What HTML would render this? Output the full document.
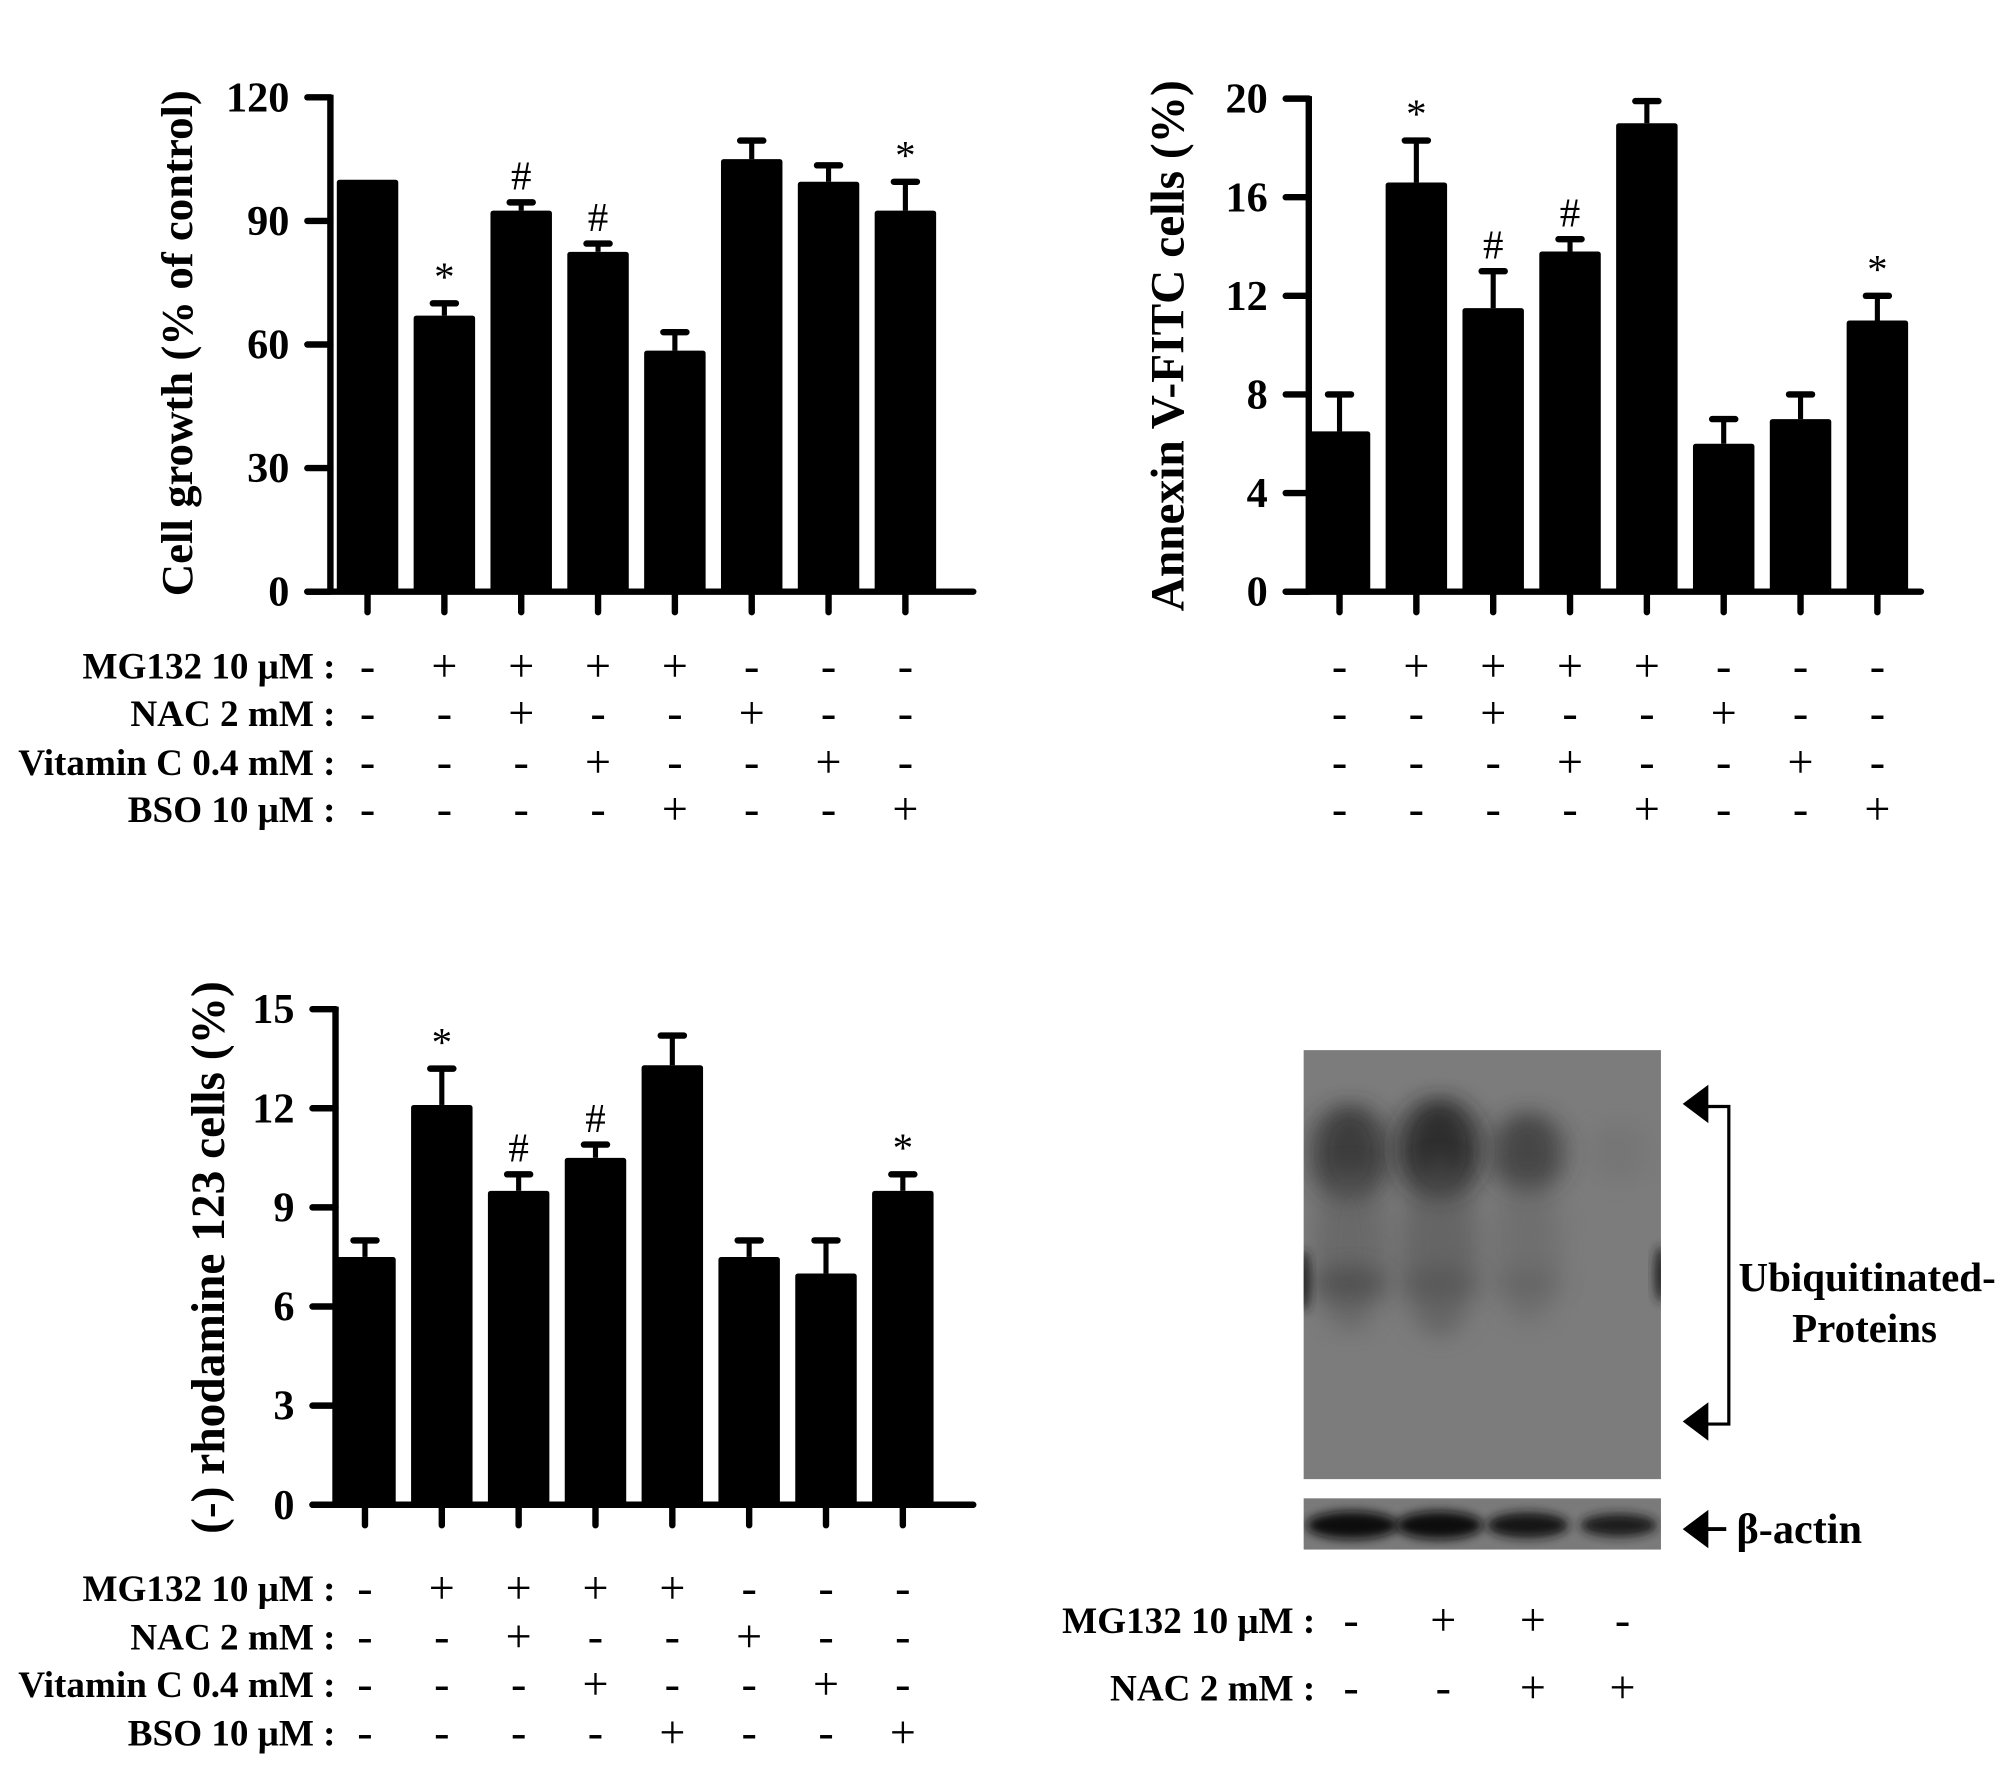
<!DOCTYPE html>
<html><head><meta charset="utf-8">
<style>
html,body{margin:0;padding:0;background:#fff;}
svg{display:block;}
text{font-family:"Liberation Serif",serif;font-weight:bold;fill:#000;}
</style></head>
<body>
<svg id="fig" width="2008" height="1766" viewBox="0 0 1568 1379" xmlns="http://www.w3.org/2000/svg">
<defs>
<filter id="blur8" x="-50%" y="-50%" width="200%" height="200%"><feGaussianBlur stdDeviation="10 8"/></filter>
<filter id="blur4" x="-50%" y="-50%" width="200%" height="200%"><feGaussianBlur stdDeviation="4"/></filter>
<clipPath id="blotclip"><rect x="1018" y="820" width="279" height="335"/></clipPath>
<clipPath id="actinclip"><rect x="1018" y="1170" width="279" height="40"/></clipPath>
</defs>
<g id="charts"></g>
<g id="blot">
  <rect x="1018" y="820" width="279" height="335" fill="#7c7c7c"/>
  <g clip-path="url(#blotclip)">
    <ellipse cx="1054" cy="900" rx="30" ry="38" fill="#2e2e2e" filter="url(#blur8)" opacity="0.8"/>
    <ellipse cx="1124" cy="897" rx="32" ry="40" fill="#232323" filter="url(#blur8)" opacity="0.85"/>
    <ellipse cx="1193" cy="900" rx="28" ry="32" fill="#363636" filter="url(#blur8)" opacity="0.75"/>
    <ellipse cx="1264" cy="900" rx="22" ry="22" fill="#707070" filter="url(#blur8)" opacity="0.5"/>
    <ellipse cx="1054" cy="975" rx="28" ry="65" fill="#5a5a5a" filter="url(#blur8)" opacity="0.55"/>
    <ellipse cx="1124" cy="975" rx="30" ry="70" fill="#525252" filter="url(#blur8)" opacity="0.55"/>
    <ellipse cx="1193" cy="975" rx="26" ry="60" fill="#606060" filter="url(#blur8)" opacity="0.45"/>
    <ellipse cx="1054" cy="1002" rx="28" ry="14" fill="#454545" filter="url(#blur8)" opacity="0.6"/>
    <ellipse cx="1124" cy="1002" rx="28" ry="14" fill="#505050" filter="url(#blur8)" opacity="0.5"/>
    <ellipse cx="1193" cy="1002" rx="24" ry="12" fill="#5a5a5a" filter="url(#blur8)" opacity="0.4"/>
    <ellipse cx="1018" cy="1000" rx="5" ry="24" fill="#222" filter="url(#blur4)"/>
    <ellipse cx="1297" cy="995" rx="5" ry="22" fill="#222" filter="url(#blur4)"/>
  </g>
  <rect x="1018" y="1170" width="279" height="40" fill="#7a7a7a"/>
  <g clip-path="url(#actinclip)">
    <ellipse cx="1056" cy="1191" rx="36" ry="11" fill="#111" filter="url(#blur4)"/>
    <ellipse cx="1124" cy="1191" rx="34" ry="11" fill="#111" filter="url(#blur4)"/>
    <ellipse cx="1193" cy="1191" rx="32" ry="10" fill="#151515" filter="url(#blur4)"/>
    <ellipse cx="1264" cy="1191" rx="30" ry="9" fill="#1a1a1a" filter="url(#blur4)"/>
  </g>
  <g>
    <polygon points="1314,862 1334,847 1334,877" fill="#000"/>
    <polygon points="1314,1110 1334,1095 1334,1125" fill="#000"/>
    <polyline points="1330,864 1350,864 1350,1112 1330,1112" fill="none" stroke="#000" stroke-width="2.5"/>
  </g>
  <text x="1458" y="1008" font-size="32" text-anchor="middle">Ubiquitinated-</text>
  <text x="1456" y="1048" font-size="32" text-anchor="middle">Proteins</text>
  <g>
    <polygon points="1314,1194 1334,1179 1334,1209" fill="#000"/>
    <line x1="1330" y1="1194" x2="1348" y2="1194" stroke="#000" stroke-width="3"/>
  </g>
  <text x="1356" y="1205" font-size="33">β-actin</text>
</g>
<g id="blotrows"></g>
</svg>
<script>
const NS = "http://www.w3.org/2000/svg";
// ---- Chart A: cell growth ----
const growthCategories = ["ctrl","MG132","MG132+NAC","MG132+VitC","MG132+BSO","NAC","VitC","BSO"];
const growthValues = [100, 67, 92.5, 82.5, 58.5, 105, 99.5, 92.5];
const growthErrors = [0, 3, 2, 2, 4.5, 4.5, 4, 7];
const growthMarks = ["", "*", "#", "#", "", "", "", "*"];
const growthTicks = [0, 30, 60, 90, 120];
// ---- Chart B: Annexin ----
const annexinValues = [6.5, 16.6, 11.5, 13.8, 19, 6, 7, 11];
const annexinErrors = [1.5, 1.7, 1.5, 0.5, 0.9, 1, 1, 1];
const annexinMarks = ["", "*", "#", "#", "", "", "", "*"];
const annexinTicks = [0, 4, 8, 12, 16, 20];
// ---- Chart C: rhodamine ----
const rhodValues = [7.5, 12.1, 9.5, 10.5, 13.3, 7.5, 7, 9.5];
const rhodErrors = [0.5, 1.1, 0.5, 0.4, 0.9, 0.5, 1, 0.5];
const rhodMarks = ["", "*", "#", "#", "", "", "", "*"];
const rhodTicks = [0, 3, 6, 9, 12, 15];
// ---- treatments ----
const treatLabels = ["MG132 10 \u03bcM :", "NAC 2 mM :", "Vitamin C 0.4 mM :", "BSO 10 \u03bcM :"];
const treatMG = ["-","+","+","+","+","-","-","-"];
const treatNAC = ["-","-","+","-","-","+","-","-"];
const treatVitC = ["-","-","-","+","-","-","+","-"];
const treatBSO = ["-","-","-","-","+","-","-","+"];
const blotLabels = ["MG132 10 \u03bcM :", "NAC 2 mM :"];
const blotMG = ["-","+","+","-"];
const blotNAC = ["-","-","+","+"];

function el(tag, attrs, parent){
  const e = document.createElementNS(NS, tag);
  for (const k in attrs) e.setAttribute(k, attrs[k]);
  parent.appendChild(e);
  return e;
}
const root = document.getElementById("charts");

function drawChart(c, values, errors, marks, ticks){
  const g = el("g", {}, root);
  
  
  const max = ticks[ticks.length-1];
  const y = v => c.y0 - (v/max)*(c.y0 - c.yTop);
  const x = i => c.x0 + c.first + i*c.step;
  values.forEach((v,i)=>{
    const cx = x(i);
    if (errors[i] > 0){
      const ln = el("line", {x1:cx, x2:cx, y1:y(v), y2:y(v+errors[i]), stroke:"#000","stroke-width":4}, g);
      
      
      const cap = el("line", {x1:cx-9, x2:cx+9, y1:y(v+errors[i]), y2:y(v+errors[i]), stroke:"#000","stroke-width":5,"stroke-linecap":"round"}, g);
      
      
    }
    const r = el("rect", {x:cx-c.bw/2, y:y(v), width:c.bw, height:c.y0-y(v), fill:"#000", rx:2}, g);
    
    
    if (marks[i]){
      const t = el("text", {x:cx, y:y(v+errors[i]) - 10, "text-anchor":"middle", "font-size":32, style:"font-weight:normal"}, g);
      t.textContent = marks[i];
      
      
    }
    const tk = el("line", {x1:cx, x2:cx, y1:c.y0, y2:c.y0+16, stroke:"#000","stroke-width":5,"stroke-linecap":"round"}, g);
    
    
  });
  const ya = el("line", {x1:c.x0, x2:c.x0, y1:c.yTop-2, y2:c.y0, stroke:"#000","stroke-width":5}, g);
  
  
  const xa = el("line", {x1:c.x0-18, x2:c.xEnd, y1:c.y0, y2:c.y0, stroke:"#000","stroke-width":5,"stroke-linecap":"round"}, g);
  
  
  ticks.forEach(t=>{
    const ln = el("line", {x1:c.x0-18, x2:c.x0, y1:y(t), y2:y(t), stroke:"#000","stroke-width":5,"stroke-linecap":"round"}, g);
    
    
    const tx = el("text", {x:c.x0-32, y:y(t)+11, "text-anchor":"end", "font-size":33}, g);
    tx.textContent = t;
    
    
  });
  const lab = el("text", {x:0, y:0, "text-anchor":"middle", "font-size":c.ts, transform:`translate(${c.lx},${c.ly}) rotate(-90)`}, g);
  lab.textContent = c.title;
  
  
  return x;
}

function drawRows(parent, xf, rows, labels, rowY, labelX){
  rows.forEach((row, r)=>{
    if (labels){
      const t = el("text", {x:labelX, y:rowY[r]+10, "text-anchor":"end", "font-size":29}, parent);
      t.textContent = labels[r];
      
      
    }
    row.forEach((s,i)=>{
      const t = el("text", {x:xf(i), y:rowY[r]+12, "text-anchor":"middle", "font-size":36, style:"font-weight:normal"}, parent);
      t.textContent = s === "-" ? "-" : "+";
      
      
    });
  });
}

const xA = drawChart({name:"cell-growth-chart", x0:258, y0:462, yTop:76, first:29, step:60, bw:48, xEnd:760, lx:150, ly:268, ts:35, title:"Cell growth (% of control)"}, growthValues, growthErrors, growthMarks, growthTicks);
const xB = drawChart({name:"annexin-chart", x0:1022, y0:462, yTop:77, first:24, step:60, bw:48, xEnd:1500, lx:924, ly:270, ts:37, title:"Annexin V-FITC cells (%)"}, annexinValues, annexinErrors, annexinMarks, annexinTicks);
const xC = drawChart({name:"rhodamine-chart", x0:262, y0:1175, yTop:788, first:23, step:60, bw:48, xEnd:760, lx:175, ly:982, ts:37, title:"(-) rhodamine 123 cells (%)"}, rhodValues, rhodErrors, rhodMarks, rhodTicks);

const rowsG = el("g", {}, root);


const allRows = [treatMG, treatNAC, treatVitC, treatBSO];
drawRows(rowsG, xA, allRows, treatLabels, [520,557,595,632], 262);
drawRows(rowsG, xB, allRows, null, [520,557,595,632], 0);
drawRows(rowsG, xC, allRows, treatLabels, [1240,1278,1315,1353], 262);
const blotLanes = [1055, 1127, 1197, 1267];
drawRows(document.getElementById("blotrows"), i => blotLanes[i], [blotMG, blotNAC], blotLabels, [1265,1318], 1027);
</script>
</body></html>
